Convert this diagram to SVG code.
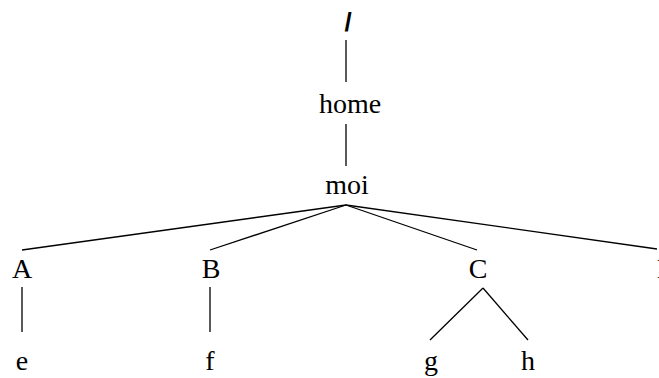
<svg xmlns="http://www.w3.org/2000/svg" width="659" height="378" viewBox="0 0 659 378">
<style>
text{font-family:"Liberation Serif","Times New Roman",serif;font-size:28px;fill:#000;text-anchor:middle}
line{stroke:#000;stroke-width:1.3}
</style>
<rect width="659" height="378" fill="#fff"/>
<g id="connectors">
<line x1="346" y1="40" x2="346" y2="82"/>
<line x1="346" y1="124" x2="346" y2="166"/>
<line x1="346" y1="205" x2="22" y2="250"/>
<line x1="346" y1="205" x2="210" y2="250"/>
<line x1="346" y1="205" x2="477" y2="250"/>
<line x1="346" y1="205" x2="657" y2="249"/>
<line x1="22" y1="287" x2="22" y2="332"/>
<line x1="210" y1="287" x2="210" y2="332"/>
<line x1="483" y1="288" x2="430" y2="340"/>
<line x1="483" y1="288" x2="528" y2="340"/>
</g>
<g id="root"><text x="348" y="31" style="font-family:'Liberation Sans',Arial,sans-serif;font-weight:bold;font-size:26px">/</text></g>
<g id="home"><text x="350" y="113">home</text></g>
<g id="moi"><text x="347" y="194">moi</text></g>
<g id="A"><text x="22" y="278">A</text></g>
<g id="B"><text x="211" y="278">B</text></g>
<g id="C"><text x="478" y="278">C</text></g>
<g id="D"><text x="667" y="278">D</text></g>
<g id="e"><text x="22" y="370">e</text></g>
<g id="f"><text x="210" y="370">f</text></g>
<g id="g"><text x="431" y="370">g</text></g>
<g id="h"><text x="528" y="370">h</text></g>
</svg>
